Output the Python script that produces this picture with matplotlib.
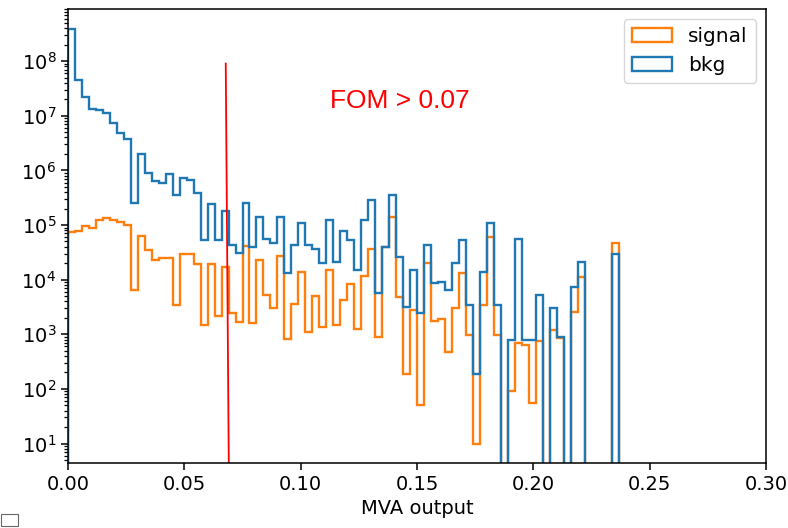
import numpy as np
import matplotlib
matplotlib.use("Agg")
import matplotlib.pyplot as plt
from matplotlib.patches import Rectangle

# 80 equal bins of MVA output, 0 .. 0.24
edges = np.linspace(0.0, 0.24, 81)

signal = [
    7.4e4, 7.9e4, 9.5e4, 8.7e4, 1.26e5, 1.37e5, 1.26e5, 1.15e5, 1.0e5, 6.5e3,
    6.2e4, 3.5e4, 2.3e4, 2.5e4, 2.5e4, 3.4e3, 2.9e4, 2.9e4, 1.9e4, 1.45e3,
    1.9e4, 2.2e3, 1.7e4, 2.4e3, 1.7e3, 4.1e4, 1.6e3, 2.3e4, 5.2e3, 3.0e3,
    2.7e4, 8.3e2, 3.6e3, 1.4e4, 1.1e3, 5.0e3, 1.35e3, 1.5e4, 1.45e3, 4.3e3,
    8.3e3, 1.26e3, 1.15e4, 3.6e4, 8.9e2, 3.9e4, 1.4e5, 4.8e3, 1.9e2, 2.8e3,
    50, 2.0e4, 1.75e3, 1.9e3, 4.8e2, 3.0e3, 1.3e4, 9.6e2, 10, 3.4e3,
    6.0e4, 9.6e2, 0, 93, 6.8e2, 6.3e2, 55, 7.6e2, 0, 1.2e3,
    8.7e2, 0, 2.6e3, 1.1e4, 0, 0, 0, 0, 4.6e4, 0,
]

bkg = [
    3.8e8, 4.5e7, 2.2e7, 1.35e7, 1.3e7, 1.1e7, 7.4e6, 4.9e6, 3.8e6, 2.5e5,
    2.0e6, 8.9e5, 6.4e5, 5.8e5, 8.7e5, 3.6e5, 7.3e5, 6.6e5, 3.8e5, 5.3e4,
    2.4e5, 5.3e4, 1.8e5, 4.3e4, 3.1e4, 2.5e5, 3.9e4, 1.4e5, 5.6e4, 4.7e4,
    1.4e5, 1.3e4, 4.3e4, 1.07e5, 4.3e4, 3.7e4, 2.0e4, 1.26e5, 2.1e4, 7.9e4,
    5.4e4, 1.5e4, 1.26e5, 2.9e5, 5.8e3, 4.0e4, 3.6e5, 2.6e4, 3.2e3, 1.5e4,
    2.4e3, 4.3e4, 8.5e3, 9.1e3, 6.4e3, 2.0e4, 5.3e4, 3.5e3, 1.9e2, 1.4e4,
    1.1e5, 3.5e3, 0, 7.8e2, 5.6e4, 7.8e2, 7.8e2, 5.2e3, 0, 3.0e3,
    8.9e2, 0, 7.2e3, 2.1e4, 0, 0, 0, 0, 2.9e4, 0,
]

cut_x = (0.0678, 0.0691)   # cut line, top and bottom ends
cut_top = 9e7
fom_text = "FOM > 0.07"

plt.rcParams["font.family"] = "DejaVu Sans"
plt.rcParams["font.size"] = 14

fig = plt.figure(figsize=(7.88, 5.28), dpi=100)
ax = fig.add_axes([68 / 788, 65 / 528, 698 / 788, 454 / 528])

centers = edges[:-1]
ax.hist(centers, bins=edges, weights=signal, histtype="step", log=True,
        label="signal", color="#ff7f0e", linewidth=1.7)
ax.hist(centers, bins=edges, weights=bkg, histtype="step", log=True,
        label="bkg", color="#1f77b4", linewidth=1.7)

ylo, yhi = 4.4, 9e8
ax.plot(cut_x, [cut_top, ylo], color="red", linewidth=1.3)
ax.text(0.1125, 1.4e7, fom_text, color="red", fontsize=19,
        family="Liberation Sans")

ax.set_xlim(0, 0.30)
ax.set_ylim(ylo, yhi)
ax.set_xticks(np.arange(0, 0.31, 0.05))
ax.set_xlabel("MVA output", fontsize=14)
ax.tick_params(which="major", length=5, width=1.1, labelsize=14)
ax.tick_params(which="minor", length=2.9, width=0.9)
for s in ax.spines.values():
    s.set_linewidth(1.1)

ax.legend(loc="upper right", fontsize=14.5)

# small checkbox in the corner of the output cell
fig.patches.append(Rectangle((1 / 788, 2 / 528), 17 / 788, 12 / 528,
                             transform=fig.transFigure, fill=False,
                             edgecolor="#666666", linewidth=0.8))

fig.savefig("out.png", dpi=100)
